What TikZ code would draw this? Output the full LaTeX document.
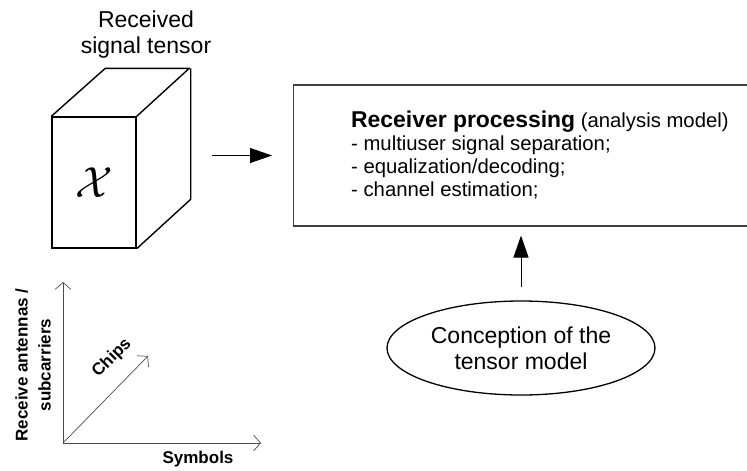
\documentclass[tikz,border=0pt]{standalone}
\usepackage{fontspec}
\setmainfont{Liberation Sans}
\usepackage{amsmath}
\usetikzlibrary{arrows.meta,shapes.geometric}

\begin{document}
\begin{tikzpicture}[x=1pt, y=-1pt, % pixel-like units
    flow/.style={line width=1pt, -{Triangle[length=22pt, width=15pt]}},
    axis/.style={line width=0.7pt, draw=black!70, -{Straight Barb[length=7pt, width=16pt]}},
    axislabel/.style={font=\fontsize{17}{23}\selectfont\bfseries, align=center, inner sep=0pt},
    body/.style={font=\fontsize{20.3}{23}\selectfont}]
        \useasboundingbox (0,0) rectangle (747,471);

        % Tensor cube
        \node[draw, line width=1.4pt, minimum width=84, minimum height=131, inner sep=0pt] (front) at (94,182.5)
            {\scalebox{1.75}{\fontsize{24.88}{25}\selectfont$\mathcal{X}$}};
        \draw[line width=1.4pt, line join=round] (front.north west) -- ++(54,-48) -- ++(84,0) -- (front.north east);
        \draw[line width=1.4pt, line join=round] (front.north east) ++(54,-48) coordinate (backtop) -- ++(0,131) coordinate (backbot) -- (front.south east);
        \node[align=center, anchor=north, inner sep=0pt, font=\fontsize{23}{26}\selectfont] (title) at (146,10.5) {Received\\signal tensor};

        % Receiver processing
        \node[draw=black!75, line width=1.1pt, anchor=west, minimum width=470, minimum height=141, inner sep=0pt] (proc) at (293,155.5) {};
        \node[body, align=left, anchor=north west, inner sep=0pt] (proctext) at (351,110.6)
            {{\fontsize{22.9}{23}\selectfont\bfseries Receiver processing} (analysis model)\\
             - multiuser signal separation;\\
             - equalization/decoding;\\
             - channel estimation;};

        % Tensor model
        \node[draw, ellipse, line width=1.3pt, minimum width=268, minimum height=94, inner sep=0pt,
              align=center, font=\fontsize{23}{26}\selectfont] (model) at (521,348) {Conception of the\\tensor model};

        % Arrows
        \coordinate (cubeR) at (backtop |- proc.west);
        \draw[flow, shorten <=21pt, shorten >=21pt] (cubeR) -- (proc.west);
        \draw[flow, shorten <=13pt, shorten >=9pt] (model.north) -- (model.north |- proc.south);

        % Axes
        \coordinate (O) at (63,443);
        \draw[axis] (O) -- (63,282) coordinate (ytip);
        \draw[axis] (O) -- (261,443) coordinate (xtip);
        \draw[axis] (O) -- (148,356) coordinate (ztip);
        \node[axislabel, rotate=90] (antennas) at (33,365) {Receive antennas /\\subcarriers};
        \node[axislabel, rotate=45] (chips) at (112,358) {Chips};
        \node[axislabel] (symbols) at (198,459) {Symbols};
    \end{tikzpicture}
\end{document}
